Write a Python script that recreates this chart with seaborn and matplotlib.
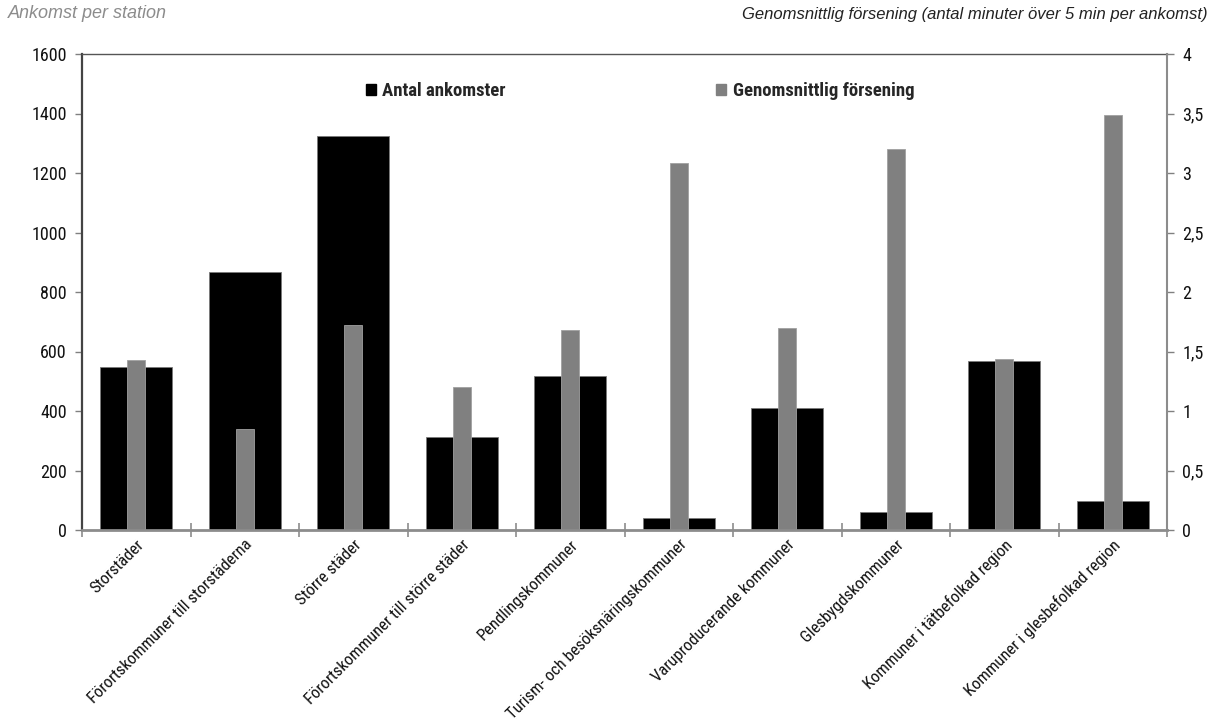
import matplotlib
matplotlib.use("Agg")
import matplotlib.pyplot as plt
import matplotlib.ticker as mticker
from matplotlib.patches import Patch
from matplotlib import font_manager
import seaborn as sns
import pandas as pd

categories = [
    "Storstäder",
    "Förortskommuner till storstäderna",
    "Större städer",
    "Förortskommuner till större städer",
    "Pendlingskommuner",
    "Turism- och besöksnäringskommuner",
    "Varuproducerande kommuner",
    "Glesbygdskommuner",
    "Kommuner i tätbefolkad region",
    "Kommuner i glesbefolkad region",
]
antal_ankomster = [548, 868, 1326, 314, 518, 42, 411, 59, 567, 98]
genomsnittlig_forsening = [1.43, 0.85, 1.72, 1.20, 1.68, 3.08, 1.70, 3.20, 1.44, 3.49]

left_ticks = [0, 200, 400, 600, 800, 1000, 1200, 1400, 1600]
right_ticks = [0, 0.5, 1, 1.5, 2, 2.5, 3, 3.5, 4]

sns.set_theme(style="white")

# pick a condensed face for the chart text
entries = font_manager.fontManager.ttflist
names = {f.name for f in entries}
narrow_family = None
narrow_stretch = "normal"
for cand in ["Roboto Condensed", "Liberation Sans Narrow", "Open Sans Condensed",
             "Noto Sans Condensed", "DejaVu Sans Condensed"]:
    if cand in names:
        narrow_family = cand
        break
if narrow_family is None:
    cond = [f for f in entries if f.name == "DejaVu Sans" and f.stretch in ("condensed", 75, "semi-condensed")]
    narrow_family = "DejaVu Sans"
    narrow_stretch = "condensed" if cond else "normal"

plt.rcParams["font.family"] = [narrow_family, "DejaVu Sans"]
plt.rcParams["font.stretch"] = narrow_stretch

df = pd.DataFrame({
    "kategori": categories,
    "antal": antal_ankomster,
    "forsening": genomsnittlig_forsening,
})

fig = plt.figure(figsize=(12.16, 7.24), dpi=100)
ax = fig.add_axes([82 / 1216, 1 - 530 / 724, (1167 - 82) / 1216, (530 - 54) / 724])
ax2 = ax.twinx()

sns.barplot(data=df, x="kategori", y="antal", ax=ax, color="black",
            width=0.66, edgecolor="#7a7a7a", linewidth=0.6, saturation=1)
sns.barplot(data=df, x="kategori", y="forsening", ax=ax2, color="#808080",
            width=0.166, edgecolor="#a0a0a0", linewidth=0.6, saturation=1)

ax.set_xlim(-0.5, len(categories) - 0.5)
ax.set_ylim(0, 1600)
ax2.set_ylim(0, 4)
ax.set_yticks(left_ticks)
ax2.set_yticks(right_ticks)
ax2.yaxis.set_major_formatter(
    mticker.FuncFormatter(lambda v, p: (f"{v:g}").replace(".", ",")))

for a in (ax, ax2):
    a.set_xlabel("")
    a.set_ylabel("")

# spines
for a in (ax, ax2):
    for s in a.spines.values():
        s.set_visible(False)
ax.spines["left"].set_visible(True)
ax.spines["left"].set_color("#444444")
ax.spines["left"].set_linewidth(1.6)
ax.spines["top"].set_visible(True)
ax.spines["top"].set_color("#555555")
ax.spines["top"].set_linewidth(1.0)
ax2.spines["right"].set_visible(True)
ax2.spines["right"].set_color("#8c8c8c")
ax2.spines["right"].set_linewidth(1.5)
ax2.spines["bottom"].set_visible(True)
ax2.spines["bottom"].set_color("#8c8c8c")
ax2.spines["bottom"].set_linewidth(2.0)

# tick styling
ax.tick_params(axis="y", left=True, length=5, width=1, color="#808080",
               labelsize=13, labelcolor="#111111", pad=6)
ax2.tick_params(axis="y", right=True, length=5, width=1, color="#808080",
                labelsize=13, labelcolor="#111111", pad=6)
ax.tick_params(axis="x", which="major", bottom=True, length=0,
               labelsize=12, labelcolor="#111111", pad=5)
ax.set_xticks([i - 0.5 for i in range(len(categories) + 1)], minor=True)
ax.tick_params(axis="x", which="minor", bottom=True, direction="inout",
               length=10, width=1.2, color="#8c8c8c")
ax2.tick_params(axis="x", bottom=False, labelbottom=False)

ax.set_xticks(range(len(categories)))
ax.set_xticklabels(categories, rotation=45, ha="right", va="top",
                   rotation_mode="anchor")

# legend
handles = [Patch(facecolor="black", edgecolor="black", label="Antal ankomster"),
           Patch(facecolor="#808080", edgecolor="#808080", label="Genomsnittlig försening")]
ax2.legend(handles=handles, ncol=2, loc="center",
           bbox_to_anchor=((640 - 82) / 1085, 1 - 37 / 476),
           frameon=False, handlelength=0.55, handleheight=0.55, handletextpad=0.35,
           columnspacing=11.2,
           prop={"family": [narrow_family, "DejaVu Sans"], "stretch": narrow_stretch,
                 "weight": "bold", "size": 13.5})

# axis titles
fig.text(8 / 1216, 1 - 14 / 724, "Ankomst per station", ha="left", va="center",
         fontsize=13, style="italic", color="#8c8c8c", stretch="normal",
         family=["Liberation Sans", "DejaVu Sans"])
fig.text(1207 / 1216, 1 - 14 / 724,
         "Genomsnittlig försening (antal minuter över 5 min per ankomst)",
         ha="right", va="center", fontsize=12, style="italic", color="#222222",
         stretch="normal", family=["Liberation Sans", "DejaVu Sans"])

fig.savefig("out.png", dpi=100)
